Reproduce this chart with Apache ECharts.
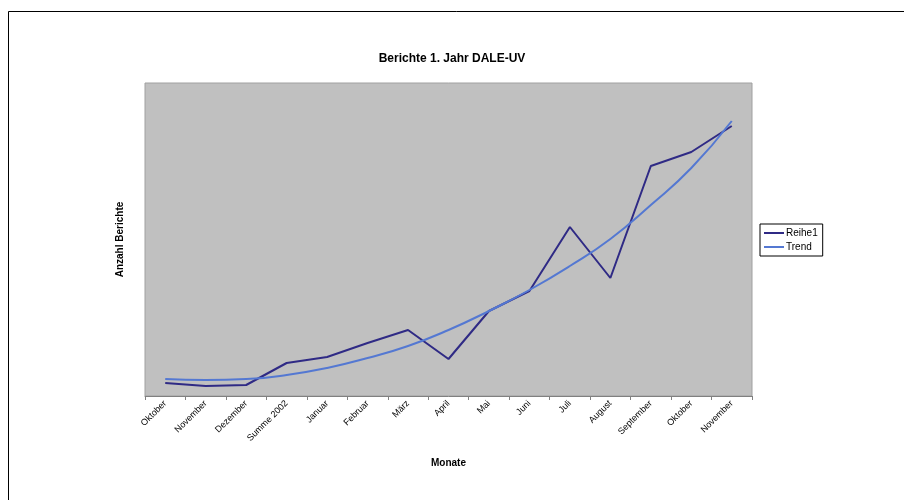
<!DOCTYPE html>
<html>
<head>
    <meta charset="UTF-8">
    <script src="https://cdn.jsdelivr.net/npm/echarts@6/dist/echarts.min.js"></script>
    <style>
        html, body { margin: 0; padding: 0; background: #fff; }
    </style>
</head>
<body>
<div id="main" style="width: 904px; height: 500px;"></div>
<script type="text/javascript">
    var monate = ['Oktober', 'November', 'Dezember', 'Summe 2002', 'Januar', 'Februar', 'März',
        'April', 'Mai', 'Juni', 'Juli', 'August', 'September', 'Oktober', 'November'];
    var reihe1 = [13, 10, 11, 33, 39, 53, 66, 37, 85, 105, 169, 118, 230, 244, 270];
    var trend = [17, 16, 17, 21, 28, 38, 50, 66, 85, 106, 130, 157, 191, 228, 275];

    var font = '"Liberation Sans", Arial, sans-serif';
    var myChart = echarts.init(document.getElementById('main'));
    var option = {
        backgroundColor: '#fff',
        animation: false,
        textStyle: { fontFamily: font },
        title: {
            text: 'Berichte 1. Jahr DALE-UV',
            left: 'center',
            top: 48,
            textStyle: { fontSize: 12, fontWeight: 'bold', color: '#000', fontFamily: font }
        },
        graphic: [{
            type: 'rect',
            shape: { x: 8.5, y: 11.5, width: 1000, height: 1000 },
            style: { fill: 'none', stroke: '#000', lineWidth: 1 },
            silent: true
        }],
        legend: {
            orient: 'vertical',
            left: 760,
            top: 224,
            padding: [4, 5, 4, 4],
            itemGap: 4,
            itemWidth: 20,
            itemHeight: 2,
            icon: 'rect',
            borderColor: '#000',
            borderWidth: 1,
            textStyle: { fontSize: 10, color: '#000', fontFamily: font, padding: [0, 0, 0, -3] },
            data: ['Reihe1', 'Trend']
        },
        grid: {
            left: 145,
            top: 83,
            width: 607,
            height: 313,
            show: true,
            backgroundColor: '#c0c0c0',
            borderColor: '#a0a0a0',
            borderWidth: 1
        },
        xAxis: {
            type: 'category',
            data: monate,
            name: 'Monate',
            nameLocation: 'middle',
            nameGap: 62,
            nameTextStyle: { fontSize: 10, fontWeight: 'bold', color: '#000' },
            axisLine: { lineStyle: { color: '#808080', width: 1 } },
            axisTick: { show: true, length: 4, lineStyle: { color: '#808080' } },
            axisLabel: { rotate: 45, fontSize: 9, color: '#000', margin: 6, interval: 0 }
        },
        yAxis: {
            type: 'value',
            min: 0,
            max: 313,
            name: 'Anzahl Berichte',
            nameLocation: 'middle',
            nameGap: 20,
            nameTextStyle: { fontSize: 10, fontWeight: 'bold', color: '#000' },
            axisLine: { show: false },
            axisTick: { show: false },
            axisLabel: { show: false },
            splitLine: { show: false }
        },
        series: [
            {
                name: 'Reihe1',
                type: 'line',
                data: reihe1,
                symbol: 'none',
                itemStyle: { color: '#2f2a85' },
                lineStyle: { color: '#2f2a85', width: 2 }
            },
            {
                name: 'Trend',
                type: 'line',
                data: trend,
                symbol: 'none',
                smooth: true,
                itemStyle: { color: '#5478d2' },
                lineStyle: { color: '#5478d2', width: 2 }
            }
        ]
    };
    myChart.setOption(option);
</script>
</body>
</html>
